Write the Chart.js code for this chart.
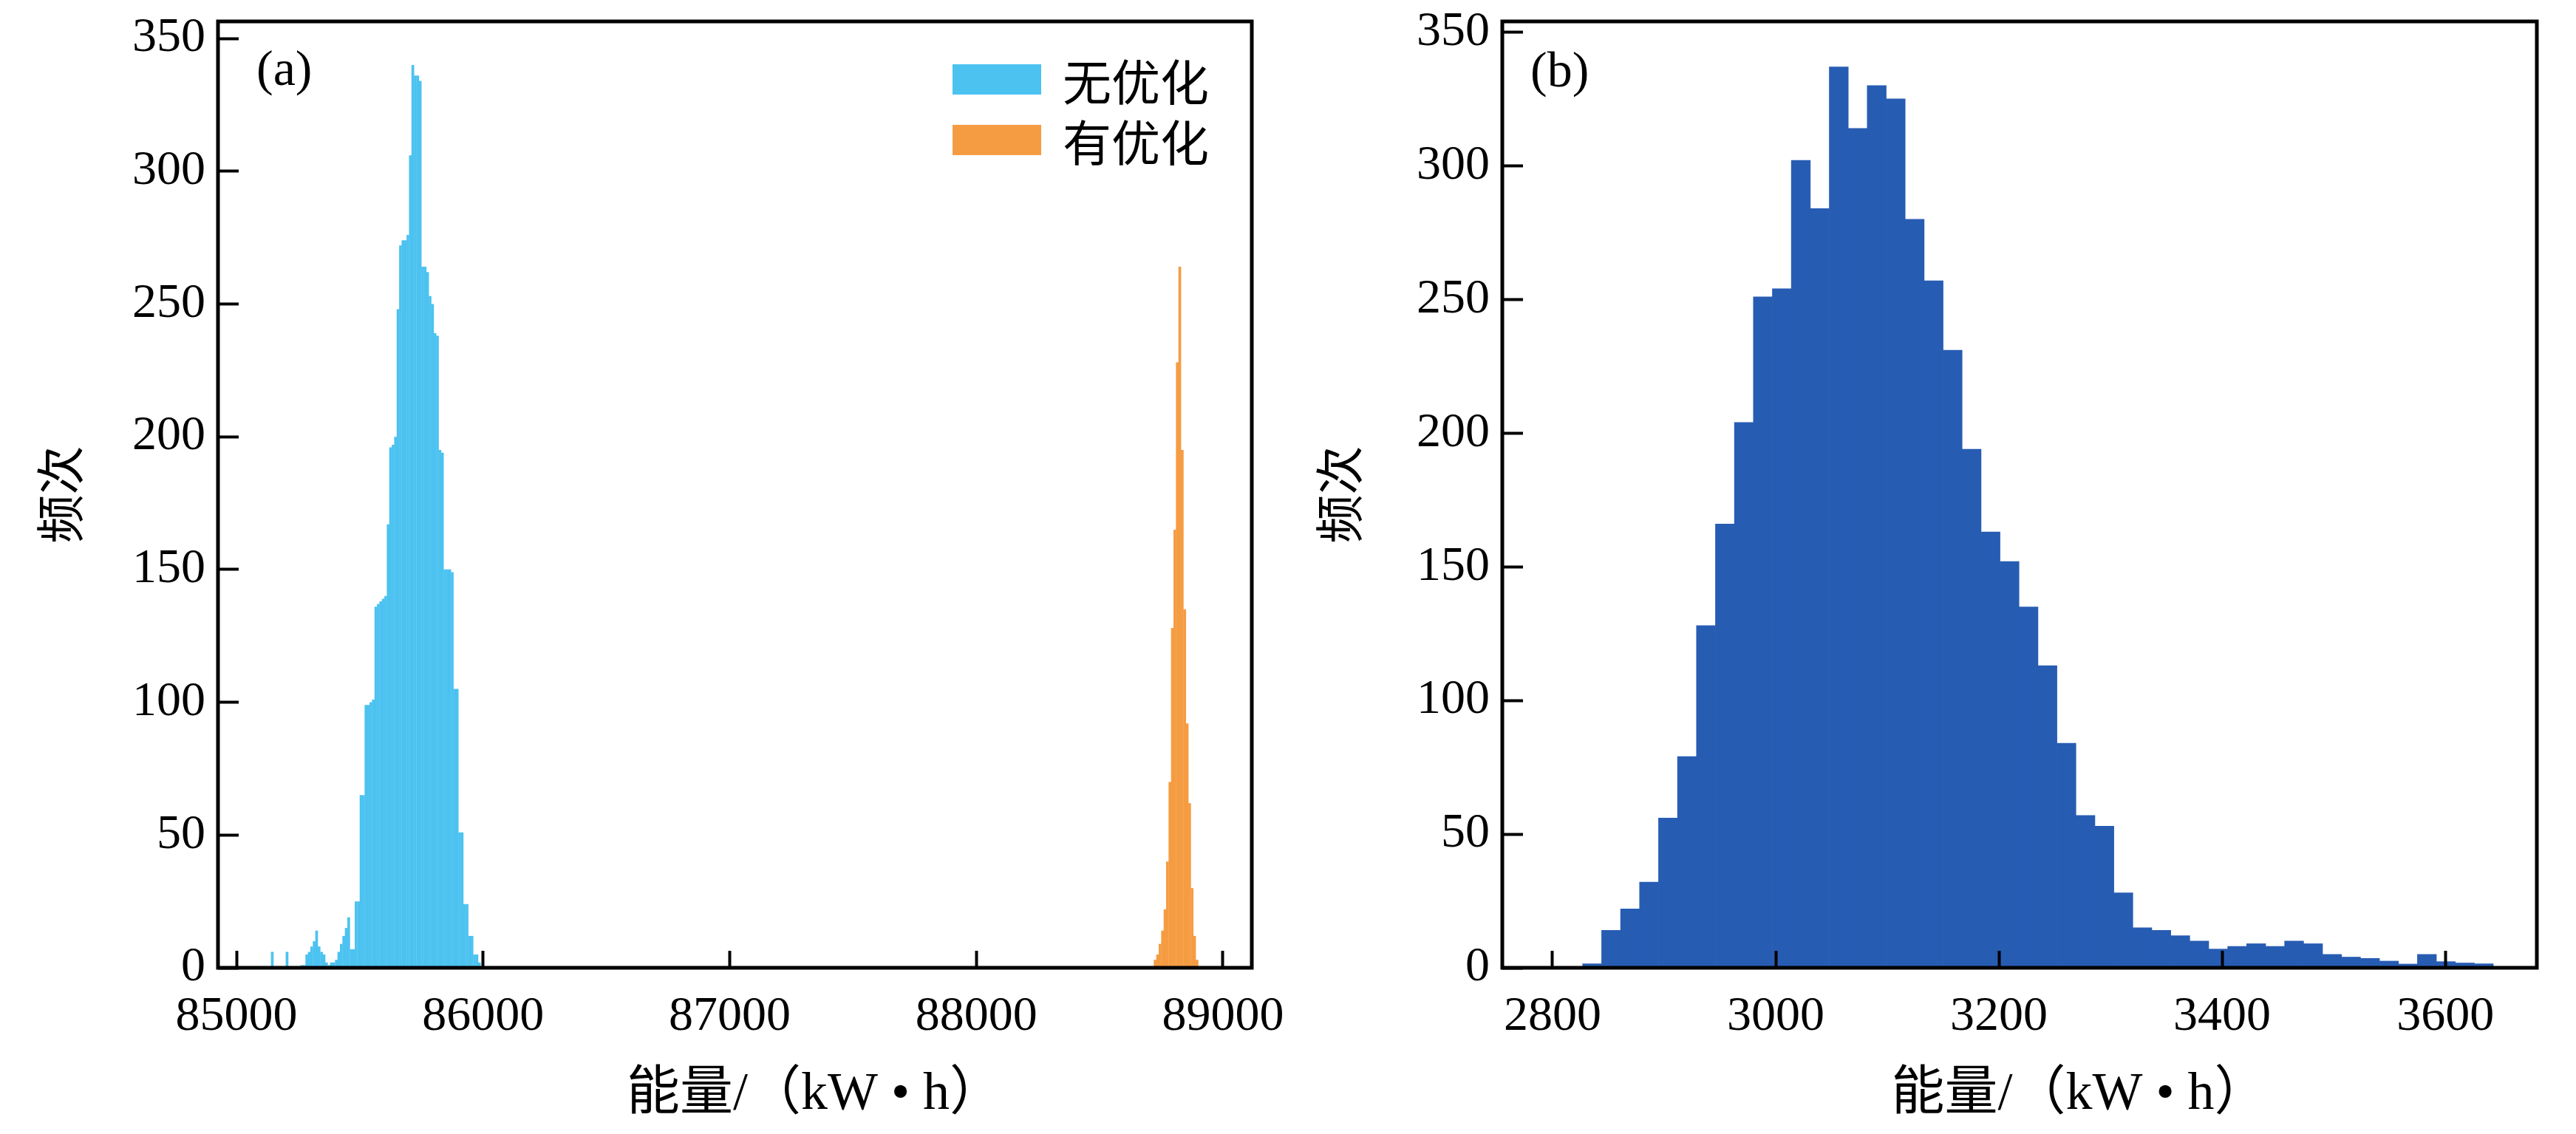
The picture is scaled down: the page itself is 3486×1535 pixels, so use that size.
<!DOCTYPE html>
<html>
<head>
<meta charset="utf-8">
<script src="https://cdn.jsdelivr.net/npm/chart.js@4.4.1/dist/chart.umd.min.js"></script>
<style>
  html, body { margin: 0; padding: 0; background: #fff; }
  #wrap { position: relative; width: 3486px; height: 1535px; overflow: hidden; }
  canvas { position: absolute; top: 0; }
  #chartA { left: 0; }
  #chartB { left: 1760px; }
  .tag { position: absolute; font: 68px "Liberation Serif", serif; line-height: 68px; color: #000; }
  #legendA { position: absolute; left: 1289px; top: 66px; font: 66px "Noto Sans CJK SC", sans-serif; color: #000; }
  #legendA .row { display: flex; align-items: center; height: 82px; }
  #legendA .swatch { width: 120px; height: 41px; margin-right: 29px; }
</style>
</head>
<body>
<div id="wrap">
  <canvas id="chartA" width="1760" height="1535"></canvas>
  <canvas id="chartB" width="1726" height="1535"></canvas>
  <div class="tag" style="left:347px;top:58px">(a)</div>
  <div class="tag" style="left:2071px;top:60px">(b)</div>
  <div id="legendA"></div>
</div>
<script>
const FONT = '"Liberation Serif", "Noto Sans CJK SC", serif';

// tick labels
const xTicksA = [85000, 86000, 87000, 88000, 89000];
const xTicksB = [2800, 3000, 3200, 3400, 3600];
const yTicks = [0, 50, 100, 150, 200, 250, 300, 350];

// (a) histograms, bin width 10 kWh
const binWidthA = 10;
const noOptStart = 85140;
const noOptCounts = [
  6, 0, 0, 0, 0, 0, 6, 0, 0, 0, 0, 0, 1, 1, 5, 6, 8, 10, 14, 8,
  6, 5, 2, 1, 2, 2, 3, 6, 9, 12, 15, 19, 7, 7, 25, 25, 65, 65, 99, 99,
  100, 101, 136, 137, 138, 139, 140, 167, 196, 197, 200, 248, 272, 274, 274, 276, 306, 340, 336, 336,
  334, 264, 264, 262, 253, 250, 239, 238, 195, 194, 150, 150, 150, 149, 105, 105, 51, 51, 24, 24,
  12, 12, 5, 5, 2
];
const optStart = 88720;
const optCounts = [3, 5, 9, 14, 22, 40, 70, 128, 165, 228, 264, 195, 135, 92, 62, 30, 12, 3];

// (b) histogram, bin width 17 kWh
const binWidthB = 17;
const energyStart = 2827;
const energyCounts = [
  1.5, 14, 22, 32, 56, 79, 128, 166, 204, 251, 254, 302, 284, 337, 314, 330,
  325, 280, 257, 231, 194, 163, 152, 135, 113, 84, 57, 53, 28, 15, 14, 12,
  10, 7, 8, 9, 8, 10, 9, 5, 4, 3.5, 2.5, 1.4, 5, 2.3, 1.8, 1.5
];

const xTitleA = '\u3000\u3000\u3000能量/（kW • h）';
const xTitleB = '\u3000\u3000 能量/（kW • h）';
const yTitle = '频次';

function toBins(start, width, counts) {
  return counts.map((c, i) => ({ x: start + width * (i + 0.5), y: c }));
}

const frame = {
  id: 'frame',
  afterDatasetsDraw(chart) {
    const { ctx, chartArea: a } = chart;
    ctx.save();
    ctx.strokeStyle = '#000';
    ctx.lineWidth = 5;
    ctx.strokeRect(a.left, a.top, a.right - a.left, a.bottom - a.top);
    ctx.restore();
  }
};

function scales(xMin, xMax, xTicks, yMax, yAxisWidth, yTitlePad, xTitle) {
  return {
    x: {
      type: 'linear', min: xMin, max: xMax, offset: false,
      afterBuildTicks: s => { s.ticks = xTicks.map(v => ({ value: v })); },
      afterFit: s => { s.height = 225; s.paddingLeft = 0; s.paddingRight = 0; },
      grid: { offset: false, drawOnChartArea: false, tickLength: -23, tickWidth: 4, tickColor: '#000', z: 1 },
      border: { display: false },
      ticks: { font: { family: FONT, size: 66 }, color: '#000', padding: 50, maxRotation: 0, autoSkip: false, callback: v => String(v) },
      title: { display: true, text: xTitle, color: '#000', font: { family: FONT, size: 72 }, padding: { top: 0, bottom: 10 } }
    },
    y: {
      min: 0, max: yMax,
      afterBuildTicks: s => { s.ticks = yTicks.map(v => ({ value: v })); },
      afterFit: s => { s.width = yAxisWidth; s.paddingTop = 0; s.paddingBottom = 0; },
      grid: { drawOnChartArea: false, tickLength: -28, tickWidth: 4, tickColor: '#000', z: 1 },
      border: { display: false },
      ticks: { font: { family: FONT, size: 66 }, color: '#000', padding: 45, callback: v => String(v) },
      title: { display: true, text: yTitle, color: '#000', font: { family: FONT, size: 66 }, padding: { top: yTitlePad, bottom: 0 } }
    }
  };
}

const barStyle = { grouped: false, barPercentage: 1, categoryPercentage: 1, borderWidth: 0 };

const chartA = new Chart(document.getElementById('chartA'), {
  type: 'bar',
  data: {
    datasets: [
      { label: '无优化', data: toBins(noOptStart, binWidthA, noOptCounts), backgroundColor: '#4cc2f0', ...barStyle, barPercentage: 1.1 },
      { label: '有优化', data: toBins(optStart, binWidthA, optCounts), backgroundColor: '#f59c42', ...barStyle, barPercentage: 1.1 }
    ]
  },
  options: {
    responsive: false,
    animation: false,
    layout: { padding: { left: 0, top: 29, right: 66, bottom: 0 } },
    plugins: { legend: { display: false }, tooltip: { enabled: false } },
    scales: scales(84925, 89117, xTicksA, 356.4, 295, 49, xTitleA)
  },
  plugins: [frame]
});

new Chart(document.getElementById('chartB'), {
  type: 'bar',
  data: {
    datasets: [
      { label: '频次', data: toBins(energyStart, binWidthB, energyCounts), backgroundColor: '#275cb3', ...barStyle }
    ]
  },
  options: {
    responsive: false,
    animation: false,
    layout: { padding: { left: 0, top: 29, right: 53, bottom: 0 } },
    plugins: { legend: { display: false }, tooltip: { enabled: false } },
    scales: scales(2755, 3682, xTicksB, 354, 273, 20, xTitleB)
  },
  plugins: [frame]
});

// legend for (a), built from the datasets
const legendEl = document.getElementById('legendA');
chartA.data.datasets.forEach(ds => {
  const row = document.createElement('div');
  row.className = 'row';
  const sw = document.createElement('span');
  sw.className = 'swatch';
  sw.style.background = ds.backgroundColor;
  const txt = document.createElement('span');
  txt.textContent = ds.label;
  row.appendChild(sw);
  row.appendChild(txt);
  legendEl.appendChild(row);
});
</script>
</body>
</html>
